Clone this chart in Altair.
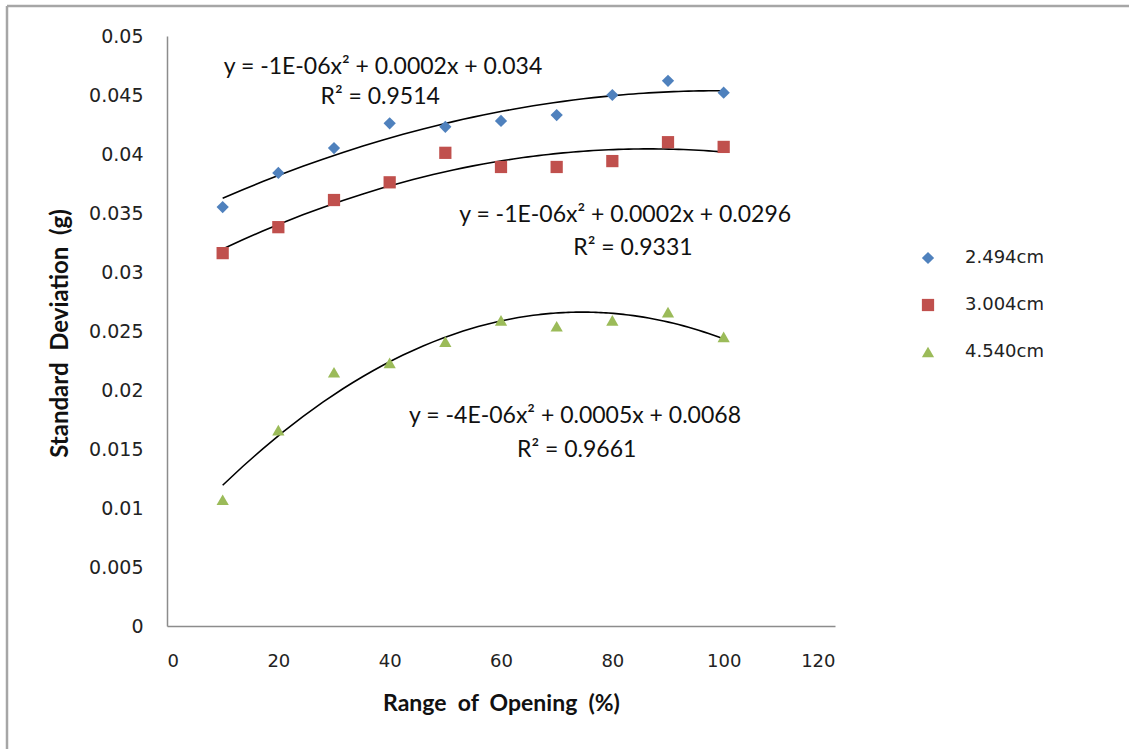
import altair as alt
import pandas as pd

# ---- data ----
opening = [10, 20, 30, 40, 50, 60, 70, 80, 90, 100]
s_2494 = [0.0355, 0.0384, 0.0405, 0.0426, 0.0423, 0.0428, 0.0433, 0.0450, 0.0462, 0.0452]
s_3004 = [0.0316, 0.0338, 0.0361, 0.0376, 0.0401, 0.0389, 0.0389, 0.0394, 0.0410, 0.0406]
s_4540 = [0.0107, 0.0166, 0.0215, 0.0223, 0.0241, 0.0259, 0.0254, 0.0259, 0.0266, 0.0245]
series_names = ["2.494cm", "3.004cm", "4.540cm"]
series_colors = ["#4F81BD", "#C0504D", "#9BBB59"]
series_shapes = ["diamond", "square", "triangle-up"]
series_sizes = [150, 150, 190]

eq_text = [
    "y = -1E-06x² + 0.0002x + 0.034", "R² = 0.9514",
    "y = -1E-06x² + 0.0002x + 0.0296", "R² = 0.9331",
    "y = -4E-06x² + 0.0005x + 0.0068", "R² = 0.9661",
]
eq_x = [38.8, 38.3, 82.3, 83.7, 73.3, 73.6]
eq_y = [0.0474, 0.04485, 0.0348, 0.0320, 0.0178, 0.0149]

rows = []
for name, vals in zip(series_names, [s_2494, s_3004, s_4540]):
    for xv, yv in zip(opening, vals):
        rows.append({"x": xv, "y": yv, "series": name})
df = pd.DataFrame(rows)
eq_df = pd.DataFrame({"x": eq_x, "y": eq_y, "text": eq_text})

LABEL_FONT = "DejaVu Sans"
TEXT_FONT = "Lato"

xscale = alt.Scale(domain=[0, 120], nice=False)
yscale = alt.Scale(domain=[0, 0.05], nice=False)

x_axis = alt.Axis(
    values=[0, 20, 40, 60, 80, 100, 120], title="Range\u00a0 of\u00a0 Opening\u00a0 (%)",
    labelFont=LABEL_FONT, labelFontSize=18, labelColor="#222222",
    labelPadding=26, ticks=False, grid=False,
    domainColor="#8c8c8c", domainWidth=1.5,
    titleFont=TEXT_FONT, titleFontSize=23, titleFontWeight="bold",
    titleColor="#111111", titleX=334, titleY=77, titleBaseline="middle",
    titleAnchor="start", titleAlign="center")
y_axis = alt.Axis(
    values=[0, 0.005, 0.01, 0.015, 0.02, 0.025, 0.03, 0.035, 0.04, 0.045, 0.05],
    format=".3~f", title="Standard\u00a0 Deviation\u00a0 (g)",
    labelFont=LABEL_FONT, labelFontSize=19, labelColor="#222222",
    labelPadding=24, ticks=False, grid=False,
    domainColor="#8c8c8c", domainWidth=1.5,
    titleFont=TEXT_FONT, titleFontSize=24, titleFontWeight="bold",
    titleColor="#111111", titleX=-107, titleY=297, titleBaseline="middle",
    titleAnchor="start", titleAlign="center", titleAngle=-90)

legend_cfg = dict(title=None, orient="none", legendX=752, legendY=213,
                  labelFont=LABEL_FONT, labelFontSize=18, labelColor="#222222",
                  symbolSize=110, labelOffset=28, rowPadding=29,
                  symbolStrokeWidth=0)

base = alt.Chart(df)

points = base.mark_point(filled=True, opacity=1).encode(
    x=alt.X("x:Q", scale=xscale, axis=x_axis),
    y=alt.Y("y:Q", scale=yscale, axis=y_axis),
    color=alt.Color("series:N", scale=alt.Scale(domain=series_names, range=series_colors),
                    legend=alt.Legend(**legend_cfg)),
    shape=alt.Shape("series:N", scale=alt.Scale(domain=series_names, range=series_shapes),
                    legend=alt.Legend(**legend_cfg)),
    size=alt.Size("series:N", scale=alt.Scale(domain=series_names, range=series_sizes),
                  legend=None),
)

trend = base.transform_regression(
    "x", "y", method="poly", order=2, groupby=["series"], extent=[10, 100]
).mark_line(color="black", strokeWidth=1.6).encode(
    x=alt.X("x:Q", scale=xscale, axis=x_axis),
    y=alt.Y("y:Q", scale=yscale, axis=y_axis),
    detail="series:N",
)

labels = alt.Chart(eq_df).mark_text(
    font=TEXT_FONT, fontSize=23, color="#111111", align="center", baseline="middle"
).encode(
    x=alt.X("x:Q", scale=xscale, axis=x_axis),
    y=alt.Y("y:Q", scale=yscale, axis=y_axis),
    text="text:N",
)

# outer chart-area border (top and left edges are the visible ones)
border_top = alt.Chart(eq_df.head(1)).mark_rule(
    stroke="#a6a6a6", strokeWidth=2.5
).encode(x=alt.value(-160), x2=alt.value(1000), y=alt.value(-30))
border_left = alt.Chart(eq_df.head(1)).mark_rule(
    stroke="#a6a6a6", strokeWidth=2.5
).encode(x=alt.value(-160), y=alt.value(-30), y2=alt.value(800))

chart = alt.layer(trend, points, labels, border_top, border_left).properties(
    width=668, height=590,
    autosize=alt.AutoSizeParams(type="none"),
    padding={"left": 167, "top": 36, "right": 294, "bottom": 123},
).configure(
    background="white",
    view=alt.ViewConfig(stroke=None, strokeWidth=0),
    axis=alt.AxisConfig(grid=False, ticks=False),
)

chart.save("out.html", embed_options={"renderer": "svg", "actions": False})
